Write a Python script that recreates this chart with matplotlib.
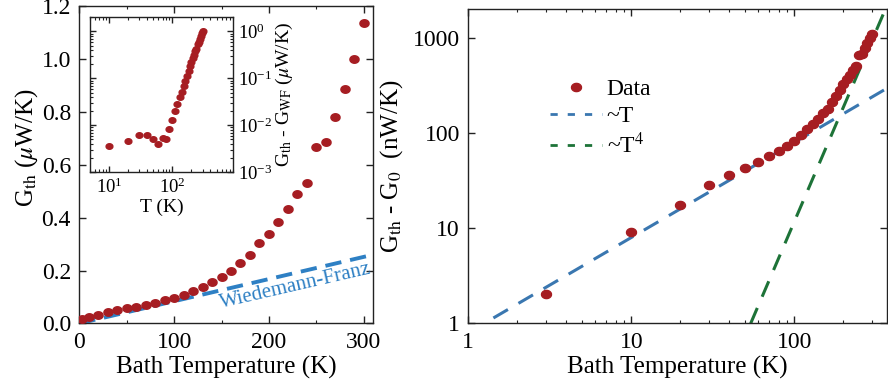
import numpy as np

import matplotlib
matplotlib.use('Agg')
import matplotlib.pyplot as plt
from matplotlib.lines import Line2D
from matplotlib.ticker import MultipleLocator, NullLocator, LogLocator

plt.rcParams['font.family'] = ['Liberation Serif', 'DejaVu Serif']
plt.rcParams['mathtext.fontset'] = 'stix'

# main panel: G_th vs bath temperature (uW/K)
temps = [3, 10, 20, 30, 40, 50, 60, 70, 80, 90, 100, 110, 120, 130, 140, 150,
         160, 170, 180, 190, 200, 210, 220, 230, 240, 250, 260, 270, 280, 290, 300]
g_th = [0.016, 0.023, 0.031, 0.042, 0.050, 0.057, 0.063, 0.069, 0.078, 0.088,
        0.097, 0.107, 0.122, 0.139, 0.157, 0.176, 0.198, 0.227, 0.258, 0.303,
        0.340, 0.384, 0.431, 0.488, 0.532, 0.667, 0.685, 0.782, 0.885, 1.000, 1.135]

# Wiedemann-Franz estimate (straight line)
wf_t = [0, 310]
wf_g = [0.0, 0.26]

# inset: G_th - G_WF (uW/K), log-log
inset_t = temps[1:]
inset_g = [0.0037, 0.0047, 0.0063, 0.0061, 0.0050, 0.0040, 0.0055, 0.0051, 0.0084,
           0.0132, 0.0199, 0.0285, 0.0394, 0.0514, 0.0676, 0.088, 0.114, 0.146,
           0.18, 0.223, 0.267, 0.315, 0.375, 0.428, 0.529, 0.583, 0.689, 0.81,
           0.906, 1.0]

# right panel: G_th - G_0 (nW/K)
g_diff = [2.03, 9.2, 17.5, 28.2, 36.4, 43.5, 49.9, 58.2, 64.6, 73.4, 83.6, 95.7,
          110, 124, 142, 161, 181, 213, 244, 287, 326, 368, 412, 465, 513, 658,
          686, 785, 895, 1000, 1112]

# power-law guides
lin_t = [1.0, 400]
lin_g = [0.8, 320]
quart_t = [54, 400]
quart_g = [1.0, 2990]

red = '#A61D22'
blue_wf = '#2E80C4'
blue = '#3A77B0'
green = '#1D7338'

theta = np.linspace(0, 2 * np.pi, 41)
dot = np.column_stack([np.cos(theta), 0.82 * np.sin(theta)])


def style_axis(ax, size):
    ax.tick_params(which='both', direction='in', top=True, right=True,
                   labelsize=size, colors='#222222', labelcolor='black')
    ax.tick_params(which='major', length=5, width=1)
    ax.tick_params(which='minor', length=2.5, width=0.8)
    for s in ax.spines.values():
        s.set_linewidth(1.0)
        s.set_color('#222222')


fig = plt.figure(figsize=(8.88, 3.85), dpi=100)

# ---- left panel
ax1 = fig.add_axes([0.0893, 0.160, 0.331, 0.824])
ax1.plot(wf_t, wf_g, color=blue_wf, lw=2.8, dashes=(4.2, 2.3), zorder=2)
ax1.plot(temps, g_th, ls='none', marker=dot, ms=6.6, color=red, zorder=3)
ax1.set_xlim(0, 310)
ax1.set_ylim(0, 1.2)
ax1.set_xticks([0, 100, 200, 300])
ax1.xaxis.set_minor_locator(MultipleLocator(50))
ax1.set_yticks(np.arange(0, 1.21, 0.2))
ax1.yaxis.set_major_formatter(matplotlib.ticker.FormatStrFormatter('%.1f'))
style_axis(ax1, 17)
ax1.tick_params(which='major', pad=6)
ax1.set_xlabel('Bath Temperature (K)', fontsize=18, labelpad=2)
ax1.set_ylabel(r'G$_{\rm th}$ ($\mu$W/K)', fontsize=18)
ax1.yaxis.set_label_coords(-0.135, 0.555)
ax1.text(228, 0.14, 'Wiedemann-Franz', color=blue_wf, fontsize=15,
         rotation=13, ha='center', va='center')

# ---- inset
axin = fig.add_axes([0.1014, 0.5525, 0.1607, 0.4026])
axin.loglog(inset_t, inset_g, ls='none', marker=dot, ms=4.9, color=red)
axin.set_xlim(5, 900)
axin.set_ylim(1e-3, 2)
axin.xaxis.set_major_locator(LogLocator(base=10, numticks=10))
axin.yaxis.set_major_locator(LogLocator(base=10, numticks=10))
style_axis(axin, 13.5)
axin.tick_params(which='major', length=4.5)
axin.tick_params(which='minor', length=2.5)
axin.tick_params(axis='y', labelleft=False, labelright=True, pad=4)
axin.tick_params(axis='x', pad=4)
axin.yaxis.set_label_position('right')
axin.set_xlabel('T (K)', fontsize=14, labelpad=1)
axin.set_ylabel(r'G$_{\rm th}$ - G$_{\rm WF}$ ($\mu$W/K)', fontsize=14, labelpad=1)

# ---- right panel
ax2 = fig.add_axes([0.5274, 0.160, 0.4718, 0.8156])
ax2.loglog(lin_t, lin_g, color=blue, lw=2.2, dashes=(5.5, 4.0), zorder=2)
ax2.loglog(quart_t, quart_g, color=green, lw=2.2, dashes=(5.5, 4.0), zorder=2)
ax2.loglog(temps, g_diff, ls='none', marker=dot, ms=7.2, color=red, zorder=3)
ax2.set_xlim(1, 372)
ax2.set_ylim(1, 2000)
ax2.set_xticks([1, 10, 100], labels=['1', '10', '100'])
ax2.set_yticks([1, 10, 100, 1000], labels=['1', '10', '100', '1000'])
ax2.yaxis.set_minor_locator(NullLocator())
style_axis(ax2, 17)
ax2.tick_params(which='major', pad=6)
ax2.set_xlabel('Bath Temperature (K)', fontsize=18, labelpad=2)
ax2.set_ylabel(r'G$_{\rm th}$ - G$_0$  (nW/K)', fontsize=18, labelpad=6)

handles = [
    Line2D([], [], ls='none', marker=dot, ms=7.2, color=red),
    Line2D([], [], color=blue, lw=2.0, dashes=(2.6, 3.6)),
    Line2D([], [], color=green, lw=2.0, dashes=(2.6, 3.6)),
]
ax2.legend(handles, ['Data', '~T', r'~T$^4$'], loc='upper left',
           bbox_to_anchor=(0.195, 0.779), frameon=False, fontsize=17,
           handlelength=2.2, handletextpad=0.2, labelspacing=0.22,
           borderpad=0, borderaxespad=0)

fig.savefig('out.png', dpi=100)
